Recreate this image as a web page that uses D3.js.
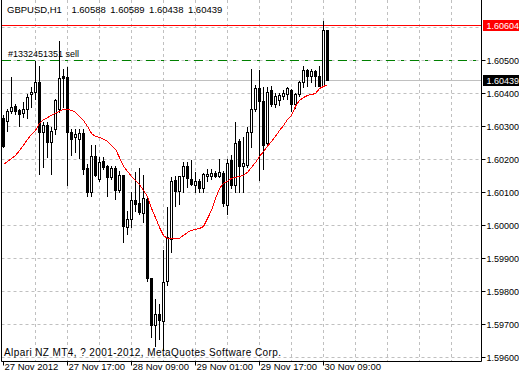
<!DOCTYPE html>
<html><head><meta charset="utf-8">
<script src="https://cdn.jsdelivr.net/npm/d3@7"></script>
<style>
body{margin:0;background:#fff}
svg{display:block}
text{font-family:"Liberation Sans",Arial,sans-serif;font-size:9.5px;fill:#000}
text.ax{font-size:9px}
</style>
</head><body>
<svg id="c" width="519" height="378"></svg>
<script>
const symbol = "GBPUSD,H1";
const lastOHLC = [1.60588, 1.60589, 1.60438, 1.60439];
const opens = [1.60324,1.60315,1.60343,1.60358,1.60346,1.60337,1.60349,1.60394,1.60403,1.60431,
1.60279,1.60303,1.60249,1.60288,1.60349,1.60449,1.60446,1.60279,1.60264,1.60258,
1.60276,1.60170,1.60100,1.60209,1.60137,1.60191,1.60176,1.60143,1.60170,1.60106,
1.60149,1.59991,1.60018,1.60073,1.60064,1.60034,1.60076,1.59837,1.59694,1.59728,
1.59709,1.59828,1.59955,1.60134,1.60103,1.60146,1.60176,1.60137,1.60121,1.60131,
1.60112,1.60146,1.60146,1.60155,1.60146,1.60155,1.60058,1.60194,1.60121,1.60252,
1.60176,1.60179,1.60279,1.60349,1.60415,1.60373,1.60246,1.60409,1.60364,1.60376,
1.60388,1.60394,1.60409,1.60364,1.60394,1.60431,1.60467,1.60449,1.60464,1.60449,
1.60421,1.60588];
const highs = [1.60331,1.60349,1.60446,1.60364,1.60349,1.60370,1.60394,1.60418,1.60494,1.60479,
1.60312,1.60312,1.60294,1.60379,1.60555,1.60470,1.60476,1.60288,1.60288,1.60288,
1.60288,1.60182,1.60240,1.60240,1.60206,1.60206,1.60179,1.60176,1.60176,1.60161,
1.60149,1.60040,1.60100,1.60158,1.60170,1.60149,1.60085,1.59837,1.59773,1.59758,
1.59924,1.60052,1.60143,1.60146,1.60146,1.60188,1.60188,1.60194,1.60158,1.60137,
1.60155,1.60167,1.60167,1.60161,1.60197,1.60161,1.60197,1.60212,1.60312,1.60258,
1.60264,1.60294,1.60470,1.60424,1.60467,1.60418,1.60418,1.60421,1.60400,1.60400,
1.60409,1.60418,1.60412,1.60400,1.60434,1.60479,1.60470,1.60470,1.60467,1.60479,
1.60618,1.60589];
const lows = [1.60234,1.60282,1.60337,1.60334,1.60300,1.60327,1.60324,1.60355,1.60379,1.60152,
1.60173,1.60206,1.60152,1.60273,1.60340,1.60355,1.60121,1.60212,1.60221,1.60203,
1.60152,1.60085,1.60085,1.60146,1.60131,1.60167,1.60085,1.60137,1.60076,1.60100,
1.59946,1.59970,1.59991,1.60040,1.60031,1.60009,1.59828,1.59658,1.59631,1.59652,
1.59621,1.59818,1.59918,1.60055,1.60061,1.60100,1.60115,1.60121,1.60097,1.60097,
1.60100,1.60131,1.60137,1.60143,1.60143,1.60055,1.60031,1.60112,1.60100,1.60097,
1.60100,1.60173,1.60234,1.60343,1.60134,1.60167,1.60240,1.60358,1.60355,1.60361,
1.60379,1.60379,1.60343,1.60352,1.60388,1.60418,1.60421,1.60431,1.60421,1.60421,
1.60421,1.60438];
const closes = [1.60237,1.60343,1.60355,1.60343,1.60334,1.60349,1.60385,1.60403,1.60431,1.60279,
1.60303,1.60249,1.60282,1.60376,1.60443,1.60443,1.60279,1.60258,1.60273,1.60276,
1.60167,1.60100,1.60209,1.60149,1.60188,1.60173,1.60143,1.60170,1.60106,1.60149,
1.59994,1.60018,1.60073,1.60061,1.60037,1.60079,1.59837,1.59694,1.59728,1.59712,
1.59825,1.59961,1.60131,1.60103,1.60146,1.60176,1.60140,1.60124,1.60131,1.60112,
1.60152,1.60152,1.60155,1.60146,1.60158,1.60064,1.60185,1.60121,1.60246,1.60176,
1.60185,1.60279,1.60349,1.60415,1.60373,1.60240,1.60403,1.60364,1.60388,1.60391,
1.60397,1.60415,1.60364,1.60394,1.60431,1.60467,1.60449,1.60464,1.60449,1.60421,
1.60588,1.60439];
const maValues = [1.60185,1.60194,1.60203,1.60212,1.60227,1.60243,1.60261,1.60276,1.60288,1.60309,
1.60321,1.60327,1.60334,1.60340,1.60346,1.60352,1.60352,1.60349,1.60343,1.60331,
1.60318,1.60300,1.60279,1.60270,1.60267,1.60261,1.60255,1.60243,1.60231,1.60206,
1.60179,1.60164,1.60149,1.60137,1.60124,1.60106,1.60088,1.60052,1.60024,1.59994,
1.59970,1.59961,1.59961,1.59961,1.59961,1.59970,1.59979,1.59985,1.59988,1.59991,
1.59997,1.60021,1.60046,1.60082,1.60112,1.60128,1.60134,1.60143,1.60146,1.60149,
1.60152,1.60161,1.60176,1.60191,1.60209,1.60224,1.60240,1.60255,1.60270,1.60288,
1.60303,1.60321,1.60334,1.60361,1.60379,1.60388,1.60394,1.60397,1.60400,1.60415,
1.60421,1.60427];
const priceTicks = [1.596,1.597,1.598,1.599,1.600,1.601,1.602,1.603,1.604,1.605,1.606];
const hiddenTickLabels = [1.606];
const timeTickIdx = [0,16,32,48,64,80];
const timeTickLabels = ["27 Nov 2012","27 Nov 17:00","28 Nov 09:00","29 Nov 01:00","29 Nov 17:00","30 Nov 09:00"];
const gridEvery = 8;
const orderPrice = 1.60500;
const orderLabel = "#1332451351 sell";
const stopPrice = 1.60604;
const bidPrice = 1.60439;
const copyright = "Alpari NZ MT4, ? 2001-2012, MetaQuotes Software Corp.";

const svg = d3.select("#c");
const W = 519, H = 378;
const left = 1.5, right = 481.5, bottom = 361.5;
const x = d3.scaleLinear().domain([0, 120]).range([3.5, 483.5]);
const y = d3.scaleLinear().domain([1.596, 1.605]).range([357.5, 60.5]);
const row = p => Math.floor(y(p) - 0.5 + 1e-6);
const col = i => Math.round(x(i) - 0.5);

const g = svg.append("g");

// grid
const maxIdx = Math.floor(x.invert(right));
const vIdx = d3.range(gridEvery, maxIdx + 1, gridEvery).filter(i => x(i) < right);
g.selectAll(".vg").data(vIdx).enter().append("line")
  .attr("x1", i => col(i) + 0.5).attr("x2", i => col(i) + 0.5)
  .attr("y1", 0).attr("y2", bottom)
  .attr("stroke", "#c0c0c0").attr("stroke-dasharray", "3,3");
g.selectAll(".hg").data(priceTicks).enter().append("line")
  .attr("x1", left).attr("x2", right)
  .attr("y1", p => row(p) + 0.5).attr("y2", p => row(p) + 0.5)
  .attr("stroke", "#c0c0c0").attr("stroke-dasharray", "3,3");

// bid line
g.append("line").attr("x1", left).attr("x2", right)
  .attr("y1", row(bidPrice) + 0.5).attr("y2", row(bidPrice) + 0.5)
  .attr("stroke", "#c0c0c0");
// stop line
g.append("line").attr("x1", left).attr("x2", right)
  .attr("y1", row(stopPrice) + 0.5).attr("y2", row(stopPrice) + 0.5)
  .attr("stroke", "#ff0000");
// order line
g.append("line").attr("x1", left + 0.5).attr("x2", right)
  .attr("y1", row(orderPrice) + 0.5).attr("y2", row(orderPrice) + 0.5)
  .attr("stroke", "#008000").attr("stroke-dasharray", "9,6,3,6");
g.append("text").attr("x", 8).attr("y", row(orderPrice) - 3).style("font-size", "9px").text(orderLabel);

// candles
const bars = opens.map((o, i) => ({i, o, h: highs[i], l: lows[i], c: closes[i]}));
const cg = g.append("g").attr("shape-rendering", "crispEdges");
cg.selectAll(".wick").data(bars).enter().append("rect")
  .attr("x", d => col(d.i)).attr("width", 1)
  .attr("y", d => row(d.h)).attr("height", d => row(d.l) - row(d.h) + 1)
  .attr("fill", "#000");
bars.forEach(d => {
  const top = row(Math.max(d.o, d.c)), bot = row(Math.min(d.o, d.c));
  const cx = col(d.i);
  if (d.c < d.o) {
    cg.append("rect").attr("x", cx - 1).attr("y", top).attr("width", 3).attr("height", bot - top + 1).attr("fill", "#000");
  } else if (bot > top) {
    cg.append("rect").attr("x", cx - 0.5).attr("y", top + 0.5).attr("width", 2).attr("height", bot - top)
      .attr("fill", "#fff").attr("stroke", "#000");
  } else {
    cg.append("rect").attr("x", cx - 1).attr("y", top).attr("width", 3).attr("height", 1).attr("fill", "#000");
  }
});

// moving average
const line = d3.line().x((d, i) => x(i)).y(d => y(d));
g.append("path").datum(maValues).attr("d", line)
  .attr("fill", "none").attr("stroke", "#ff0000").attr("stroke-width", 1)
  .attr("shape-rendering", "crispEdges");

// frame
g.append("line").attr("x1", left).attr("x2", left).attr("y1", 0).attr("y2", bottom).attr("stroke", "#000");
g.append("line").attr("x1", right).attr("x2", right).attr("y1", 0).attr("y2", bottom).attr("stroke", "#000");
g.append("line").attr("x1", left).attr("x2", right).attr("y1", bottom).attr("y2", bottom).attr("stroke", "#000");

// price axis
const fmt = d3.format(".5f");
const shown = priceTicks.filter(p => !hiddenTickLabels.includes(p));
g.selectAll(".pt").data(shown).enter().append("line")
  .attr("x1", right).attr("x2", right + 4)
  .attr("y1", p => row(p) + 0.5).attr("y2", p => row(p) + 0.5).attr("stroke", "#000");
g.selectAll(".pl").data(shown).enter().append("text").attr("class", "ax")
  .attr("x", 486.5).attr("y", p => row(p) + 4).text(fmt);

function priceBox(p, fill) {
  const r = row(p);
  g.append("rect").attr("x", right + 1.5).attr("y", r - 5).attr("width", W - right).attr("height", 11).attr("fill", fill);
  g.append("text").attr("class", "ax").attr("x", 486.5).attr("y", r + 4).style("fill", "#fff").text(fmt(p));
}
priceBox(stopPrice, "#ff0000");
priceBox(bidPrice, "#000000");

// time axis
g.selectAll(".tt").data(timeTickIdx).enter().append("line")
  .attr("x1", i => col(i) + 0.5).attr("x2", i => col(i) + 0.5)
  .attr("y1", bottom).attr("y2", bottom + 4).attr("stroke", "#000");
g.selectAll(".tl").data(timeTickIdx).enter().append("text")
  .attr("x", i => col(i) + 1.5).attr("y", 370).text((i, k) => timeTickLabels[k]);

// title
const t1 = g.append("text").attr("x", 7).attr("y", 13).text(symbol);
let cx = 7 + t1.node().getComputedTextLength() + 9.5;
lastOHLC.forEach(v => {
  const t = g.append("text").attr("x", cx).attr("y", 13).text(fmt(v));
  cx += t.node().getComputedTextLength() + 4.5;
});

// copyright
g.append("text").attr("x", 4).attr("y", 356).style("font-size", "10px")
  .attr("textLength", 277).attr("lengthAdjust", "spacing").text(copyright);
</script>
</body></html>
